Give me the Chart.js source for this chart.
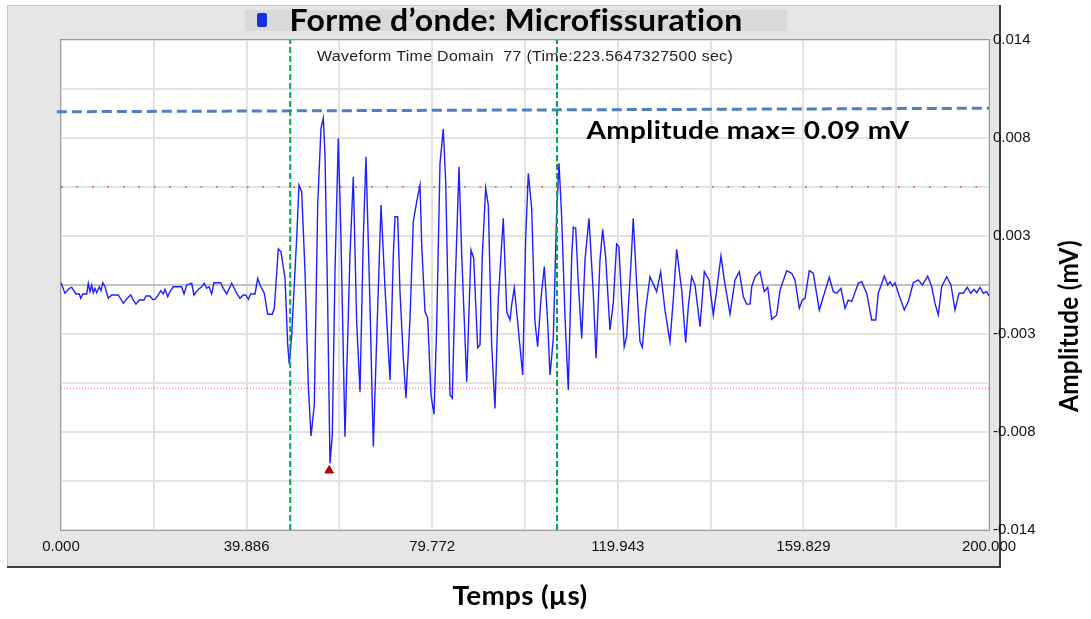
<!DOCTYPE html>
<html>
<head>
<meta charset="utf-8">
<script src="https://cdn.jsdelivr.net/npm/chart.js@4.4.1/dist/chart.umd.min.js"></script>
<style>
  html, body { margin: 0; padding: 0; background: #fff; }
  canvas { display: block; }
</style>
</head>
<body>
<canvas id="waveChart" width="1091" height="619"></canvas>
<script>
// waveform vertices: time in µs, amplitude in mV
const waveTime = [
  0.0, 0.86, 1.79, 2.31, 3.23, 3.94, 4.25, 4.68, 5.54, 5.88, 6.25, 6.62, 6.96, 7.33, 7.69, 8.25,
  8.62, 8.99, 9.48, 10.19, 10.93, 12.35, 13.43, 14.29, 15.02, 15.58, 16.16, 16.87, 17.89, 18.32,
  19.18, 19.76, 20.26, 20.97, 21.49, 22.05, 22.41, 22.99, 23.49, 24.2, 26.01, 26.51, 27.09, 28.17,
  28.66, 29.59, 30.32, 30.88, 31.4, 31.9, 32.48, 32.97, 34.41, 34.97, 35.71, 36.78, 37.86, 38.57,
  39.29, 39.8, 40.36, 40.88, 41.81, 42.39,
  42.89, 43.81, 44.55, 45.54, 45.97, 46.83, 47.41, 48.28, 48.86, 49.2, 49.72, 50.79, 51.29, 51.87,
  52.59, 53.3, 53.88, 54.59, 55.32, 56.03, 56.53, 56.9, 57.48, 57.97, 58.47, 59.05, 59.76, 60.34,
  61.2, 62.28, 62.99, 63.72, 64.44, 65.15, 65.73, 66.59, 67.31, 68.04, 68.97, 69.83, 70.91, 71.62,
  71.98, 72.56,
  73.06, 73.77, 74.35, 75.22, 75.93, 76.66, 77.37, 77.74, 78.45, 79.03, 79.74, 80.39, 80.97, 81.68,
  82.39, 82.91, 83.84, 84.33, 84.91, 85.78, 86.36, 87.44, 88.36, 88.94, 89.8, 90.3, 90.8, 91.53,
  92.09, 92.82, 93.53, 94.25, 95.32, 96.06, 96.77, 97.13, 97.69, 98.21, 99.5, 100.15, 100.71, 101.44,
  102.15, 102.73, 103.45, 104.16, 104.89, 105.39, 106.1, 106.83, 107.33,
  107.9, 108.62, 109.33, 110.06, 110.41, 110.93, 111.49, 112.22, 112.93, 113.79, 114.72, 115.3,
  116.16, 116.74, 117.38, 118.31, 119.02, 119.75, 120.24, 120.82, 121.38, 121.9, 122.84, 123.33,
  124.06, 124.78, 125.27, 126.0, 126.93, 128.37, 129.23, 130.16, 131.24, 131.95, 132.68, 133.77,
  134.63, 135.19, 135.92, 136.64, 137.72, 138.65, 139.66,
  140.58, 141.31, 142.24, 142.95, 144.18, 145.26, 146.19, 147.05, 147.78, 148.49, 148.86, 149.57,
  150.65, 151.57, 152.31, 153.17, 154.25, 154.96, 156.4, 157.48, 158.19, 159.12, 159.76, 160.34,
  161.27, 162.13, 163.43, 164.29, 165.58, 166.44, 167.18, 168.1, 168.97, 169.67, 170.41, 171.83,
  172.56, 173.64, 174.72, 175.58, 176.14, 177.44, 178.17, 178.66, 179.24, 179.74, 180.6, 181.74,
  182.61, 183.68, 184.76, 185.62, 186.79, 187.65, 188.36, 189.07, 189.8, 190.88, 191.81, 192.67,
  193.53, 194.46, 195.32, 196.06, 196.77, 197.35, 198.06, 198.77, 199.5, 200.0
];
const waveAmp = [
  0.00013, -0.00047, -0.00019, -0.00013, -0.00051, -0.00051, -0.00076, -0.00051, -0.00051, 0.0001,
  -0.00038, 0, -0.00044, -0.00019, -0.00044, -0.0001, -0.00033, 0.00013, -0.0001, -0.00076,
  -0.00057, -0.00057, -0.00105, -0.00076, -0.00057, -0.00086, -0.00109, -0.00086, -0.00086, -0.00063,
  -0.00063, -0.00082, -0.00082, -0.00057, -0.00033, -0.00051, -0.00025, -0.00067, -0.00038, -0.0001,
  -0.0001, -0.00051, 0, 0.0001, -0.00057, -0.00025, -0.0001, 0.0001, -0.00019, -0.0001,
  -0.00051, 0.00013, 0.00013, -0.00019, -0.00051, 0.0001, -0.00047, -0.00076, -0.00057, -0.00057,
  -0.00082, -0.00051, -0.00051, 0.00038,
  0, -0.00047, -0.00167, -0.00167, -0.00133, 0.00206, 0.0019, 0.00038, -0.00343, -0.00453,
  -0.00286, 0.00267, 0.00571, 0.00533, 0.00076, -0.00571, -0.00863, -0.00686, 0.00457, 0.00895,
  0.00953, 0.00743, -0.00114, -0.01019, -0.00857, 0.00076, 0.00838, 0.00267, -0.00867, 0.00171,
  0.00619, -0.0021, -0.0061, 0.00267, 0.00733, -0.00114, -0.00924, -0.00305, 0.00457, -0.00019,
  -0.00543, 0.00171, 0.0039, 0.0039,
  -0.00038, -0.00419, -0.00647, -0.0019, 0.00362, 0.00476, 0.00571, 0.00229, -0.00153, -0.0019,
  -0.00629, -0.00739, -0.00229, 0.00695, 0.00891, 0.0059, -0.00629, -0.00647, -0.00038, 0.00676,
  0.00171, -0.00553, 0.002, 0.00153, -0.00358, -0.00343, 0.00171, 0.00553, 0.00457, -0.00343,
  -0.00705, -0.00076, 0.00381, -0.00153, -0.002, -0.00114, -0.00015, -0.00153, -0.00514, 0.00267,
  0.00638, 0.00438, -0.0021, -0.00353, -0.00076, 0.00105, -0.0021, -0.00514, -0.00305, 0.00419,
  0.00695,
  0.0039, -0.00181, -0.006, 0.00162, 0.0033, 0.00324, 0.0001, -0.00305, 0.00143, 0.00381,
  -0.00047, -0.00419, 0.00143, 0.00318, 0.00162, -0.00257, -0.00105, 0.00234, 0.00219, -0.00086,
  -0.00353, -0.00295, 0.00124, 0.00381, 0.0001, -0.00324, -0.00356, -0.00143, 0.00047, -0.00038,
  0.00076, -0.00143, -0.00324, -0.00086, 0.00204, -0.00029, -0.0033, -0.00124, 0.00047, 0,
  -0.00238, 0.00076, 0.00029,
  -0.00171, -0.00029, 0.00166, 0.00029, -0.00166, 0.00029, 0.00076, -0.00067, -0.00109, -0.00109,
  -0.0001, 0.00047, 0.00076, -0.00038, -0.00013, -0.00196, -0.00171, -0.00029, 0.00082, 0.00067,
  0.00029, -0.00133, -0.00086, -0.00076, 0.00082, 0.00067, -0.00143, -0.00067, 0.00044, -0.00038,
  -0.00047, -0.00019, -0.00133, -0.00086, -0.00095, 0.0001, 0.00019, -0.00047, -0.002, -0.002,
  -0.00047, 0.00051, 0, 0.00019, -0.00006, 0.00013, -0.00057, -0.00143, -0.00095, 0.00013,
  0.00029, 0, 0.00051, -0.0001, -0.00105, -0.00171, -0.0001, 0.00047, 0, -0.00143,
  -0.00047, -0.00047, -0.00013, -0.00047, -0.00025, -0.00044, -0.00013, -0.00047, -0.00038, -0.00063
];

// axes
const xGridValues = [0, 20, 40, 60, 80, 100, 120, 140, 160, 180, 200];
const xTickLabels = ['0.000', '39.886', '79.772', '119.943', '159.829', '200.000'];
const yGridValues = [-0.014, -0.0112, -0.0084, -0.0056, -0.0028, 0, 0.0028, 0.0056, 0.0084, 0.0112, 0.014];
const yTickLabels = ['-0.014', '-0.008', '-0.003', '0.003', '0.008', '0.014'];

// overlays
const maxLineTime = [-0.9, 200];
const maxLineAmp = [0.0099, 0.0101];
const cursorTimes = [49.4, 106.9];
const thresholdHigh = 0.0056;
const thresholdLow = -0.0059;
const minMarkerTime = [57.8];
const minMarkerAmp = [-0.0106];

const titleText = 'Forme d\u2019onde: Microfissuration';
const subtitleText = 'Waveform Time Domain  77 (Time:223.5647327500 sec)';
const maxText = 'Amplitude max= 0.09 mV';
const xTitle = 'Temps (\u00b5s)';
const yTitle = 'Amplitude (mV)';

const pts = (xs, ys) => xs.map((x, i) => ({ x, y: ys[i] }));
const hline = v => [{ x: 0, y: v }, { x: 200, y: v }];
const vline = t => [{ x: t, y: -0.014 }, { x: t, y: 0.014 }];

// draw text squeezed/stretched to the width it has in the picture
function fitText(c, text, cx, cy, font, width, rot) {
  c.save();
  c.font = font;
  c.letterSpacing = '0.3px'; // also stops Lato from joining "ti"
  const w = c.measureText(text).width;
  c.translate(cx, cy);
  if (rot) c.rotate(rot);
  c.scale(width / w, 1);
  c.textAlign = 'center';
  c.fillText(text, 0, 0);
  c.restore();
}

const framePlugin = {
  id: 'framePlugin',
  beforeDraw(chart) {
    const c = chart.ctx, a = chart.chartArea;
    c.save();
    c.fillStyle = '#ffffff';
    c.fillRect(0, 0, chart.width, chart.height);
    c.fillStyle = '#e6e6e6';
    c.fillRect(7, 5, 993, 562);
    c.fillStyle = '#c8c8c8';
    c.fillRect(7, 5, 993, 1);
    c.fillRect(7, 5, 1, 562);
    c.fillStyle = '#3c3c3c';
    c.fillRect(999, 5, 2, 563);
    c.fillRect(7, 566, 994, 2);
    c.fillStyle = '#ffffff';
    c.fillRect(a.left, a.top, a.right - a.left, a.bottom - a.top);
    c.restore();
  },
  beforeDatasetsDraw(chart) {
    const c = chart.ctx, a = chart.chartArea;
    c.save();
    c.strokeStyle = '#9a9a9a';
    c.lineWidth = 1;
    c.strokeRect(a.left - 0.5, a.top - 0.5, a.right - a.left + 1, a.bottom - a.top + 1);
    c.restore();
  },
  afterDraw(chart) {
    const c = chart.ctx;
    c.save();
    // title box with legend swatch
    c.fillStyle = '#d9d9d9';
    c.fillRect(245, 10, 542, 21);
    c.fillStyle = '#1233dd';
    c.beginPath();
    c.roundRect(257, 13, 10, 14, 2);
    c.fill();
    c.fillStyle = '#000';
    c.textBaseline = 'alphabetic';
    fitText(c, titleText, 516, 31, 'bold 31px Lato', 453);
    c.fillStyle = '#222';
    fitText(c, subtitleText, 525, 61, '15px "Liberation Sans"', 416);
    c.fillStyle = '#000';
    fitText(c, maxText, 748, 139, 'bold 24px Lato', 323);
    fitText(c, xTitle, 520, 605, 'bold 26px Lato', 135);
    c.textBaseline = 'middle';
    fitText(c, yTitle, 1070, 326, 'bold 26px Lato', 172, -Math.PI / 2);
    c.restore();
  }
};

new Chart(document.getElementById('waveChart'), {
  type: 'scatter',
  data: {
    datasets: [
      {
        data: vline(cursorTimes[0]), showLine: true, pointRadius: 0,
        borderColor: '#00a651', borderWidth: 2, borderDash: [6, 3]
      },
      {
        data: vline(cursorTimes[1]), showLine: true, pointRadius: 0,
        borderColor: '#00a651', borderWidth: 2, borderDash: [6, 3]
      },
      {
        data: pts(maxLineTime, maxLineAmp), showLine: true, pointRadius: 0, clip: false,
        borderColor: '#4f7fc0', borderWidth: 3, borderDash: [10, 5]
      },
      {
        data: pts(minMarkerTime, minMarkerAmp), pointStyle: 'triangle', pointRadius: 5,
        backgroundColor: '#c00000', borderColor: '#c00000', borderWidth: 1
      },
      {
        data: pts(waveTime, waveAmp), showLine: true, pointRadius: 0,
        borderColor: '#1f1fff', borderWidth: 1.4, tension: 0
      },
      {
        data: hline(thresholdHigh), showLine: true, pointRadius: 0,
        borderColor: '#ff3030', borderWidth: 1.5, borderDash: [1.5, 14]
      },
      {
        data: hline(thresholdLow), showLine: true, pointRadius: 0,
        borderColor: '#ff6a6a', borderWidth: 1, borderDash: [1, 2]
      }
    ]
  },
  options: {
    responsive: false,
    animation: false,
    devicePixelRatio: 1,
    layout: { padding: { left: 61, top: 40, right: 0, bottom: 0 } },
    plugins: { legend: { display: false }, tooltip: { enabled: false } },
    scales: {
      x: {
        type: 'linear', min: 0, max: 200,
        afterBuildTicks: s => { s.ticks = xGridValues.map(v => ({ value: v })); },
        afterFit: s => { s.height = 89; },
        grid: { color: '#e2e2e2', lineWidth: 2, drawTicks: false },
        border: { color: '#9a9a9a', width: 1 },
        ticks: {
          padding: 8, maxRotation: 0, autoSkip: false,
          color: '#111', font: { family: 'Liberation Sans', size: 15 },
          callback: (v, i) => (i % 2 === 0 ? xTickLabels[i / 2] : '')
        }
      },
      y: {
        position: 'right', min: -0.014, max: 0.014,
        afterBuildTicks: s => { s.ticks = yGridValues.map(v => ({ value: v })); },
        afterFit: s => { s.width = 102; },
        grid: {
          color: ctx => (Math.abs(ctx.tick.value) < 1e-9 ? '#c2c2c2' : '#e2e2e2'),
          lineWidth: 2, drawTicks: false
        },
        border: { color: '#9a9a9a', width: 1 },
        ticks: {
          padding: 4, autoSkip: false,
          color: '#111', font: { family: 'Liberation Sans', size: 15 },
          callback: (v, i) => (i % 2 === 0 ? yTickLabels[i / 2] : '')
        }
      }
    }
  },
  plugins: [framePlugin]
});
</script>
</body>
</html>
